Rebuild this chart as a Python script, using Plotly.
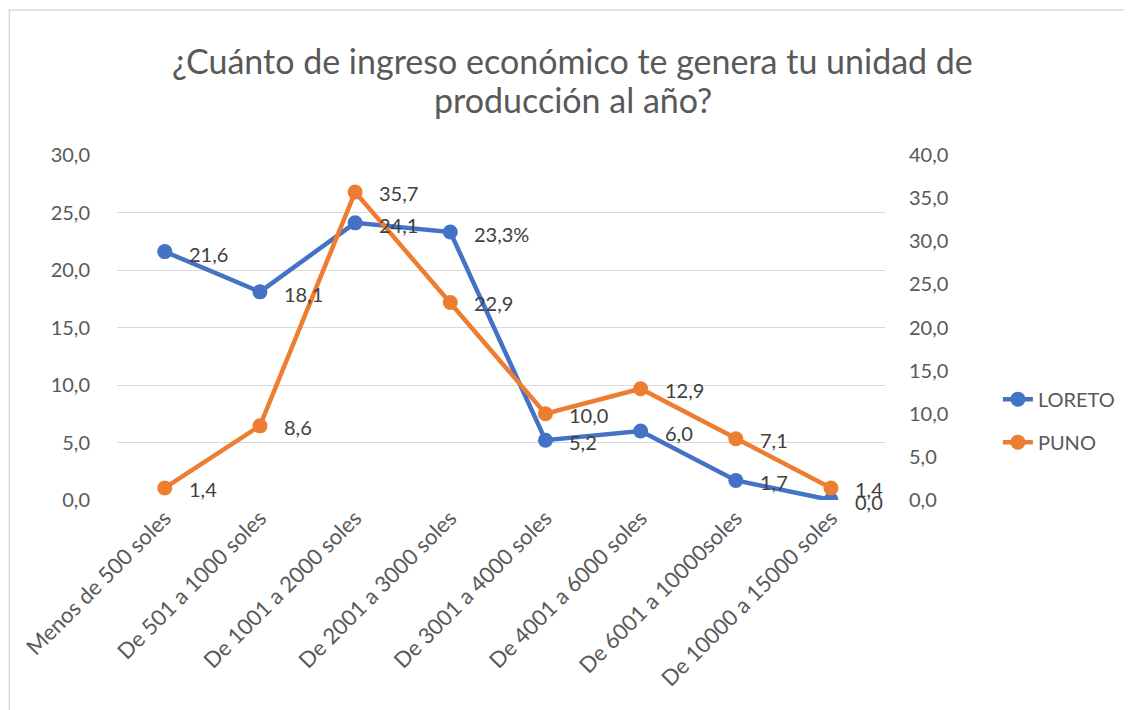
import plotly.graph_objects as go

categories = ["Menos de 500 soles", "De 501 a 1000 soles", "De 1001 a 2000 soles",
              "De 2001 a 3000 soles", "De 3001 a 4000 soles", "De 4001 a 6000 soles",
              "De 6001 a 10000soles", "De 10000 a 15000 soles"]
loreto = [21.6, 18.1, 24.1, 23.3, 5.2, 6.0, 1.7, 0.0]
puno = [1.4, 8.6, 35.7, 22.9, 10.0, 12.9, 7.1, 1.4]
loreto_labels = ["21,6", "18,1", "24,1", "23,3%", "5,2", "6,0", "1,7", "0,0"]
puno_labels = ["1,4", "8,6", "35,7", "22,9", "10,0", "12,9", "7,1", "1,4"]
left_ticks = [0, 5, 10, 15, 20, 25, 30]
right_ticks = [0, 5, 10, 15, 20, 25, 30, 35, 40]
title_lines = ["¿Cuánto de ingreso económico te genera tu unidad de", "producción al año?"]

BLUE = "#4472C4"
ORANGE = "#ED7D31"
FONT = "Lato"
GRAY = "#595959"
LABEL = "#404040"

# page has an 8px body margin; figure is sized to fit the 1132x710 window
W, H = 1124, 702
L, T = 109, 147
PW, PH = 770, 345

fig = go.Figure()
fig.add_trace(go.Scatter(x=categories, y=loreto, name="LORETO", mode="lines+markers",
                         legendgroup="a",
                         line=dict(color=BLUE, width=4.5), marker=dict(size=15, color=BLUE)))
fig.add_trace(go.Scatter(x=categories, y=puno, name="PUNO", mode="lines+markers", yaxis="y2",
                         legendgroup="b",
                         line=dict(color=ORANGE, width=4.5), marker=dict(size=15, color=ORANGE)))

annotations = []
for c, v, t in zip(categories, loreto, loreto_labels):
    annotations.append(dict(x=c, y=v, xref="x", yref="y", text=t, showarrow=False,
                            xanchor="left", yanchor="middle", xshift=22, yshift=-2,
                            font=dict(family=FONT, size=20, color=LABEL)))
for c, v, t in zip(categories, puno, puno_labels):
    annotations.append(dict(x=c, y=v, xref="x", yref="y2", text=t, showarrow=False,
                            xanchor="left", yanchor="middle", xshift=22, yshift=-1,
                            font=dict(family=FONT, size=20, color=LABEL)))
title_y_px = [52, 92]
for line, ypx in zip(title_lines, title_y_px):
    annotations.append(dict(x=(566 - L) / PW, y=(T + PH - ypx) / PH, xref="paper", yref="paper",
                            text=line, showarrow=False, xanchor="center", yanchor="middle",
                            font=dict(family=FONT, size=34, color=GRAY)))

fig.update_layout(
    width=W, height=H,
    margin=dict(l=L, r=W - L - PW, t=T, b=H - T - PH),
    paper_bgcolor="white", plot_bgcolor="white",
    separators=",.",
    font=dict(family=FONT, color=GRAY, size=20),
    showlegend=True,
    legend=dict(x=1.147, y=0.23, xanchor="left", yanchor="middle",
                font=dict(family=FONT, size=20, color=GRAY),
                tracegroupgap=14, traceorder="grouped"),
    xaxis=dict(tickangle=-45, showgrid=False, showline=False, ticks="",
               tickfont=dict(family=FONT, size=22, color=GRAY)),
    yaxis=dict(range=[0, 30], tickvals=left_ticks, tickformat=".1f", showgrid=True,
               gridcolor="#D9D9D9", gridwidth=1.3, zeroline=False, showline=False, ticks="",
               ticklabelstandoff=26, tickfont=dict(family=FONT, size=20, color=GRAY)),
    yaxis2=dict(range=[0, 40], tickvals=right_ticks, tickformat=".1f", overlaying="y",
                side="right", showgrid=False, zeroline=False, showline=False, ticks="",
                ticklabelstandoff=23, tickfont=dict(family=FONT, size=20, color=GRAY)),
    annotations=annotations,
    shapes=[dict(type="rect", xref="paper", yref="paper",
                 x0=(1 - L) / PW, x1=2.0, y0=-1.0, y1=(T + PH - 2) / PH,
                 line=dict(color="#D9D9D9", width=1.5), fillcolor="rgba(0,0,0,0)", layer="below")],
)

fig.write_html("out.html")
